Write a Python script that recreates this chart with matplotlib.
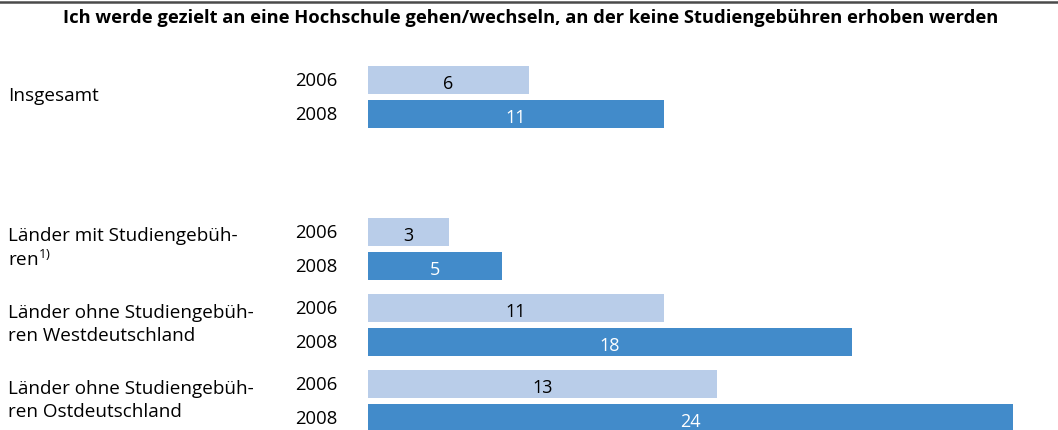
import numpy as np
import matplotlib
matplotlib.use("Agg")
import matplotlib.pyplot as plt
from matplotlib.lines import Line2D
import matplotlib.transforms as mtransforms

plt.rcParams['font.family'] = ['Open Sans', 'DejaVu Sans']
plt.rcParams['mathtext.fontset'] = 'custom'
plt.rcParams['mathtext.rm'] = 'Open Sans'

title = "Ich werde gezielt an eine Hochschule gehen/wechseln, an der keine Studiengebühren erhoben werden"
groups = ["Insgesamt",
          "Länder mit Studiengebüh-\nren$^{\\mathregular{1)}}$",
          "Länder ohne Studiengebüh-\nren Westdeutschland",
          "Länder ohne Studiengebüh-\nren Ostdeutschland"]
group_slots = [0, 2, 3, 4]
years = ["2006", "2008"]
vals_2006 = [6, 3, 11, 13]
vals_2008 = [11, 5, 18, 24]

c_2006 = "#B9CDE9"
c_2008 = "#428BCA"

W, H = 1058, 431
fig = plt.figure(figsize=(W / 100, H / 100), dpi=100)

x0_px = 368
px_per_unit = 26.875
ax = fig.add_axes([x0_px / W, 0, 1 - x0_px / W, 1])
ax.set_xlim(0, (W - x0_px) / px_per_unit)
ax.set_ylim((H - 98) / 76, -98 / 76)
ax.axis("off")

off = 0.22
h = 0.37
slots = np.array(group_slots, dtype=float)
ax.barh(slots - off, vals_2006, height=h, color=c_2006, left=0)
ax.barh(slots + off, vals_2008, height=h, color=c_2008, left=0)

for y, v in zip(slots, vals_2006):
    ax.text(v / 2, y - off + 0.04, str(v), ha="center", va="center", fontsize=13, color="black")
for y, v in zip(slots, vals_2008):
    ax.text(v / 2, y + off + 0.04, str(v), ha="center", va="center", fontsize=13, color="white")

trans = mtransforms.blended_transform_factory(fig.transFigure, ax.transData)
for y, g in zip(slots, groups):
    ax.text(8 / W, y - 0.02, g, transform=trans, ha="left", va="center", fontsize=13.6,
            linespacing=1.3)
    for k, yr in enumerate(years):
        ax.text(338 / W, y + (2 * k - 1) * off, yr, transform=trans, ha="right",
                va="center", fontsize=13.3)

fig.add_artist(Line2D([0, 1], [1 - 2.5 / H, 1 - 2.5 / H], color="#4a4a4a", lw=1.8,
                      transform=fig.transFigure))
fig.text(531 / W, 1 - 18 / H, title, ha="center", va="center", fontsize=13.2,
         fontweight="bold")

fig.savefig("out.png", dpi=100)
